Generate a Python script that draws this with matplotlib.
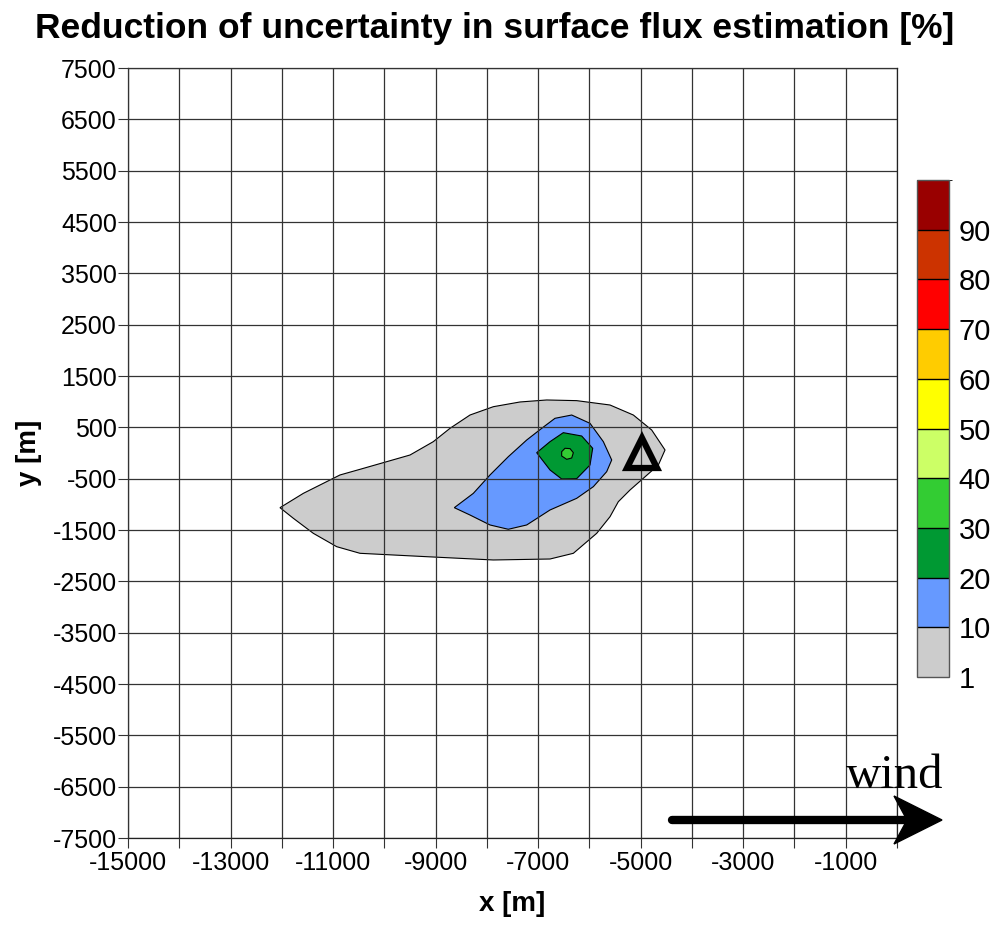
import matplotlib
matplotlib.use('Agg')
import matplotlib.pyplot as plt
from matplotlib.colors import ListedColormap, BoundaryNorm
from matplotlib.colorbar import ColorbarBase
from matplotlib.patches import Polygon

plt.rcParams['font.family'] = ['Liberation Sans', 'DejaVu Sans']
plt.rcParams['axes.unicode_minus'] = False

# contour outlines [m]
gray_x = [-12035, -11580, -10865, -10475, -9499, -9045, -8719, -8329, -7874, -7354,
          -6833, -6248, -5598, -5143, -4785, -4525, -4655, -4948, -5208, -5436,
          -5598, -5858, -6313, -6768, -7874, -9174, -10475, -10929, -11385, -11775]
gray_y = [-1065, -786, -428, -318, -39, 221, 481, 740, 902, 994,
          1033, 1020, 935, 740, 448, 59, -234, -493, -721, -949,
          -1241, -1565, -1954, -2065, -2084, -2020, -1954, -1825, -1565, -1272]

blue_x = [-8635, -8264, -7939, -7582, -7223, -6930, -6671, -6345, -5988, -5728,
          -5565, -5663, -5923, -6248, -6768, -7223, -7582, -7939, -8329]
blue_y = [-1065, -786, -428, -72, 253, 481, 676, 740, 578, 221,
          -136, -364, -656, -883, -1110, -1402, -1486, -1402, -1208]

dgreen_x = [-7028, -6768, -6509, -6150, -5936, -5988, -6248, -6541, -6768]
dgreen_y = [6, 221, 396, 331, 92, -234, -500, -506, -331]

lgreen_x = [-6541, -6476, -6378, -6313, -6345, -6443, -6541]
lgreen_y = [26, 92, 85, 6, -97, -123, -58]

# measurement site
site_x = [-4980]
site_y = [0]

levels = [1, 10, 20, 30, 40, 50, 60, 70, 80, 90, 100]
level_colors = ['#cccccc', '#6699ff', '#009933', '#33cc33', '#ccff66',
                '#ffff00', '#ffcc00', '#ff0000', '#cc3300', '#990000']

xticks = list(range(-15000, 1, 1000))
yticks = list(range(-7500, 7501, 1000))

fig = plt.figure(figsize=(9.99, 9.26), dpi=100)
ax = fig.add_axes([128/999, 1-838/926, 769/999, 770/926])

ax.fill(gray_x, gray_y, facecolor=level_colors[0], edgecolor='black', lw=0.8, zorder=1)
ax.fill(blue_x, blue_y, facecolor=level_colors[1], edgecolor='black', lw=0.8, zorder=1.1)
ax.fill(dgreen_x, dgreen_y, facecolor=level_colors[2], edgecolor='black', lw=0.8, zorder=1.2)
ax.fill(lgreen_x, lgreen_y, facecolor=level_colors[3], edgecolor='black', lw=0.8, zorder=1.3)

ax.plot(site_x, site_y, marker='^', ms=21, mfc='none', mec='black', mew=4.5,
        ls='none', zorder=4)

ax.set_xlim(-15000, 0)
ax.set_ylim(-7500, 7500)
ax.set_xticks(xticks)
ax.set_xticklabels([str(t) if (t // 1000) % 2 == 1 else '' for t in xticks])
ax.set_yticks(yticks)
ax.tick_params(axis='both', direction='out', length=7, width=0.8, labelsize=18,
               color='#333333')
ax.tick_params(axis='x', pad=2)
ax.tick_params(axis='y', pad=1)
ax.grid(True, color='#333333', lw=0.9, zorder=2)
ax.set_axisbelow(False)
for s in ax.spines.values():
    s.set_color('#222222')
    s.set_linewidth(0.9)

ax.set_xlabel('x [m]', fontsize=20, fontweight='bold', labelpad=12)
ax.set_ylabel('y [m]', fontsize=20, fontweight='bold', labelpad=8)

fig.text(0.495, 0.969, 'Reduction of uncertainty in surface flux estimation [%]',
         ha='center', va='center', fontsize=25.5, fontweight='bold')

# wind arrow
ay = (838 - 820) / 770
ax.plot([(672-128)/769, (905-128)/769], [ay, ay], transform=ax.transAxes,
        color='black', lw=6, solid_capstyle='round', clip_on=False, zorder=5)
head = [((942-128)/769, ay), ((894-128)/769, (838-796)/770),
        ((907-128)/769, ay), ((894-128)/769, (838-844)/770)]
ax.add_patch(Polygon(head, closed=True, facecolor='black', edgecolor='black',
                     transform=ax.transAxes, clip_on=False, zorder=5))
fig.text(846/999, 1-788/926, 'wind', family=['Liberation Serif', 'DejaVu Serif'],
         fontsize=35, va='baseline', ha='left')

# colour bar
cax = fig.add_axes([917/999, 1-677/926, 32/999, 497/926])
cmap = ListedColormap(level_colors)
norm = BoundaryNorm(levels, cmap.N)
cb = ColorbarBase(cax, cmap=cmap, norm=norm, boundaries=levels, ticks=levels[:-1],
                  spacing='uniform', drawedges=True)
cb.dividers.set_color('black')
cb.dividers.set_linewidth(1)
cb.outline.set_edgecolor('#555555')
cb.outline.set_linewidth(1)
cax.tick_params(length=0, labelsize=21, pad=7)

fig.savefig('out.png', dpi=100)
